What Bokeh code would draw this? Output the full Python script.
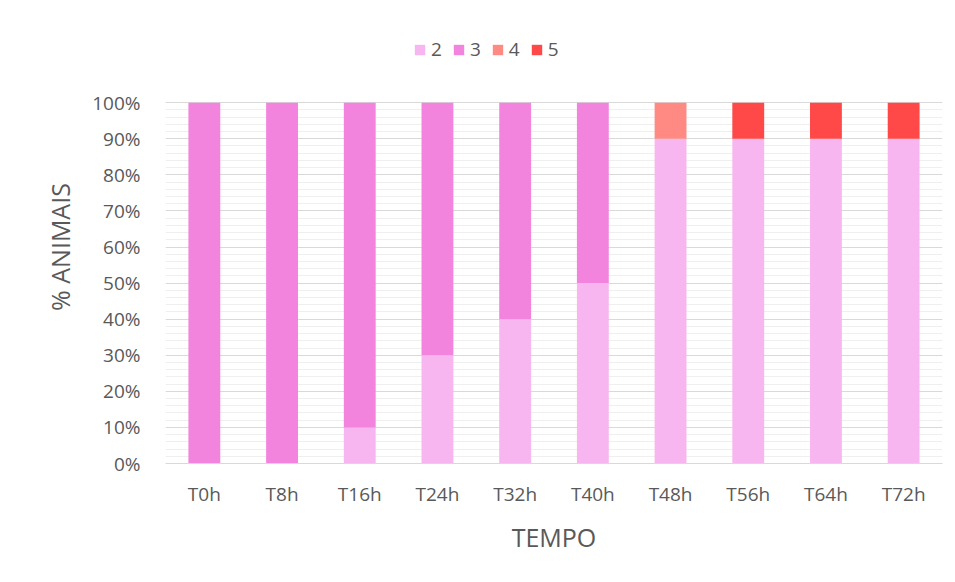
from bokeh.plotting import figure
from bokeh.models import Legend, LegendItem, NumeralTickFormatter, FixedTicker
from bokeh.embed import file_html
from bokeh.resources import INLINE

categories = ["T0h", "T8h", "T16h", "T24h", "T32h", "T40h", "T48h", "T56h", "T64h", "T72h"]
s2 = [0, 0, 10, 30, 40, 50, 90, 90, 90, 90]
s3 = [100, 100, 90, 70, 60, 50, 0, 0, 0, 0]
s4 = [0, 0, 0, 0, 0, 0, 10, 0, 0, 0]
s5 = [0, 0, 0, 0, 0, 0, 0, 10, 10, 10]
series = ["2", "3", "4", "5"]
colors = ["#F7B6EF", "#F284DD", "#FF8A84", "#FF4848"]

data = {"cat": categories,
        "2": [v / 100 for v in s2], "3": [v / 100 for v in s3],
        "4": [v / 100 for v in s4], "5": [v / 100 for v in s5]}

# y range extends above 100% to leave room for the legend inside the (unoutlined) frame
p = figure(x_range=categories, y_range=(0, 1.2), width=947, height=574,
           output_backend="svg", toolbar_location=None,
           min_border_left=165, min_border_right=5, min_border_top=30, min_border_bottom=111)

renderers = p.vbar_stack(series, x="cat", width=0.41, color=colors, source=data, line_width=0)

legend = Legend(items=[LegendItem(label=s, renderers=[r]) for s, r in zip(series, renderers)],
                orientation="horizontal", location=(248, 401),
                label_text_font="Open Sans", label_text_font_size="19px",
                label_text_color="#595959", glyph_width=13, glyph_height=13,
                label_height=20, label_width=10, spacing=10, label_standoff=5,
                border_line_color=None, background_fill_alpha=0, padding=0, margin=0)
p.add_layout(legend, "center")

p.yaxis.ticker = FixedTicker(ticks=[i / 10 for i in range(11)],
                             minor_ticks=[i / 50 for i in range(51)])
p.yaxis.formatter = NumeralTickFormatter(format="0%")
p.ygrid.grid_line_color = "#D9D9D9"
p.ygrid.minor_grid_line_color = "#EFEFEF"
p.xgrid.grid_line_color = None

for ax in (p.xaxis, p.yaxis):
    ax.major_tick_line_color = None
    ax.minor_tick_line_color = None
    ax.major_label_text_font = "Open Sans"
    ax.major_label_text_font_size = "19px"
    ax.major_label_text_color = "#595959"
    ax.axis_label_text_font = "Open Sans"
    ax.axis_label_text_font_size = "25px"
    ax.axis_label_text_color = "#595959"
    ax.axis_label_text_font_style = "normal"
p.yaxis.axis_line_color = None
p.xaxis.axis_line_color = "#D9D9D9"
p.yaxis.axis_label = "% ANIMAIS"
p.xaxis.axis_label = "TEMPO"
p.xaxis.major_label_standoff = 11
p.xaxis.axis_label_standoff = 10
p.yaxis.major_label_standoff = 19
p.yaxis.axis_label_standoff = 12
p.outline_line_color = None
p.border_fill_color = "white"

open("out.html", "w").write(file_html(p, INLINE))
